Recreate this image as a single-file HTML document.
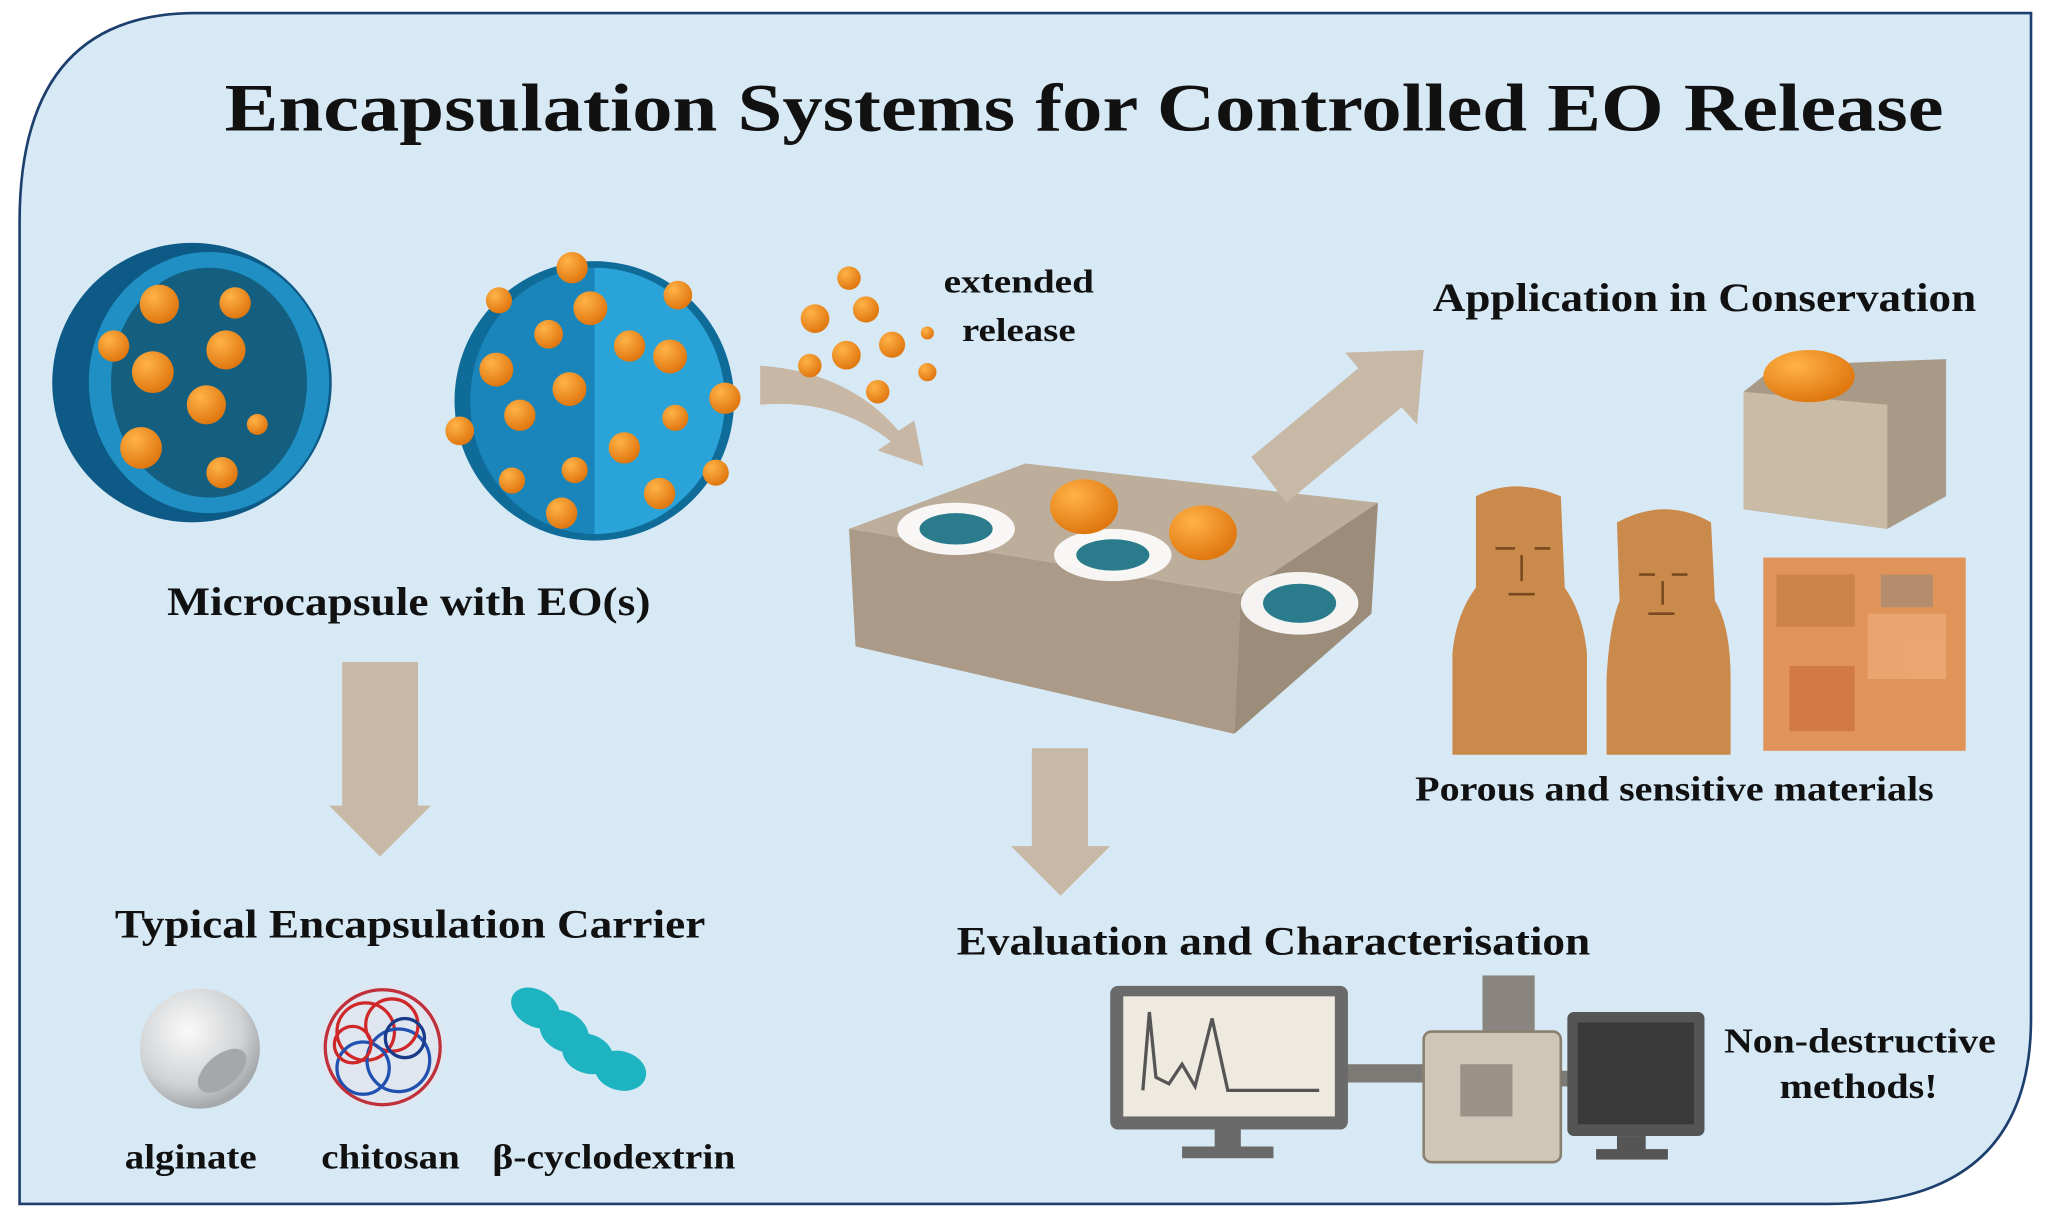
<!DOCTYPE html>
<html><head><meta charset="utf-8"><style>
html,body{margin:0;padding:0;background:#fff}
svg{display:block}
text{font-family:"Liberation Serif",serif;font-weight:bold;fill:#111}
</style></head><body>
<svg width="2048" height="1217" viewBox="0 0 1568 932" preserveAspectRatio="none" xmlns="http://www.w3.org/2000/svg">
<defs>
<radialGradient id="alg" cx="40%" cy="35%" r="65%"><stop offset="0" stop-color="#fafafa"/><stop offset="0.7" stop-color="#d0d2d4"/><stop offset="1" stop-color="#a5a8ab"/></radialGradient>
<radialGradient id="org" cx="35%" cy="30%" r="70%"><stop offset="0" stop-color="#ffb347"/><stop offset="1" stop-color="#e07810"/></radialGradient>
</defs>
<path d="M15,922 L15,170 Q15,10 150,10 L1555,10 L1555,780 Q1555,922 1400,922 Z" fill="#d8e9f6" stroke="#1d3f6e" stroke-width="2"/>
<text x="830" y="100" font-size="52" text-anchor="middle" textLength="1316" lengthAdjust="spacingAndGlyphs">Encapsulation Systems for Controlled EO Release</text>

<circle cx="147" cy="293" r="107" fill="#0e5a86"/>
<ellipse cx="160" cy="293" rx="92" ry="100" fill="#1f8fc4"/>
<ellipse cx="160" cy="293" rx="75" ry="88" fill="#145f80"/>
<g fill="url(#org)">
<circle cx="122" cy="233" r="15"/><circle cx="180" cy="232" r="12"/><circle cx="87" cy="265" r="12"/><circle cx="173" cy="268" r="15"/><circle cx="117" cy="285" r="16"/><circle cx="158" cy="310" r="15"/><circle cx="108" cy="343" r="16"/><circle cx="170" cy="362" r="12"/><circle cx="197" cy="325" r="8"/>
</g>
<circle cx="455" cy="307" r="107" fill="#0f6b98"/>
<path d="M455,205 A100,102 0 0,1 455,409 Z" fill="#2aa3d8"/>
<path d="M360,307 A95,102 0 0,1 455,205 L455,409 A95,102 0 0,1 360,307Z" fill="#1a85ba"/>
<g fill="url(#org)">
<circle cx="438" cy="205" r="12"/><circle cx="382" cy="230" r="10"/><circle cx="519" cy="226" r="11"/><circle cx="452" cy="236" r="13"/><circle cx="420" cy="256" r="11"/><circle cx="482" cy="265" r="12"/><circle cx="513" cy="273" r="13"/><circle cx="380" cy="283" r="13"/><circle cx="436" cy="298" r="13"/><circle cx="555" cy="305" r="12"/><circle cx="398" cy="318" r="12"/><circle cx="517" cy="320" r="10"/><circle cx="352" cy="330" r="11"/><circle cx="478" cy="343" r="12"/><circle cx="440" cy="360" r="10"/><circle cx="392" cy="368" r="10"/><circle cx="505" cy="378" r="12"/><circle cx="548" cy="362" r="10"/><circle cx="430" cy="393" r="12"/>
</g>
<path d="M582,280 Q650,285 688,330 L700,322 L707,357 L672,345 L682,338 Q640,305 582,310 Z" fill="#c7b7a4"/>
<g fill="url(#org)">
<circle cx="650" cy="213" r="9"/><circle cx="624" cy="244" r="11"/><circle cx="663" cy="237" r="10"/><circle cx="648" cy="272" r="11"/><circle cx="683" cy="264" r="10"/><circle cx="620" cy="280" r="9"/><circle cx="710" cy="285" r="7"/><circle cx="672" cy="300" r="9"/><circle cx="710" cy="255" r="5"/>
</g>
<text x="780" y="224" font-size="25" text-anchor="middle" textLength="115" lengthAdjust="spacingAndGlyphs">extended</text>
<text x="780" y="261" font-size="25" text-anchor="middle" textLength="87" lengthAdjust="spacingAndGlyphs">release</text>
<text x="313" y="471" font-size="31" text-anchor="middle" textLength="370" lengthAdjust="spacingAndGlyphs">Microcapsule with EO(s)</text>
<path d="M262,507 L320,507 L320,617 L330,617 L291,656 L252,617 L262,617 Z" fill="#c8b8a6"/>
<text x="314" y="718" font-size="31" text-anchor="middle" textLength="452" lengthAdjust="spacingAndGlyphs">Typical Encapsulation Carrier</text>
<circle cx="153" cy="803" r="46" fill="url(#alg)"/>
<ellipse cx="170" cy="820" rx="22" ry="12" fill="#a5a8aa" transform="rotate(-40 170 820)"/>
<circle cx="293" cy="802" r="48" fill="#dfe6ef"/>
<g fill="none" stroke-width="2.5">
<circle cx="280" cy="790" r="22" stroke="#d02828"/><circle cx="305" cy="812" r="24" stroke="#2050b0"/><circle cx="300" cy="785" r="20" stroke="#d02828"/><circle cx="278" cy="818" r="20" stroke="#2050b0"/><circle cx="293" cy="802" r="44" stroke="#c0303a"/><circle cx="310" cy="795" r="15" stroke="#1a3a8a"/><circle cx="270" cy="800" r="14" stroke="#d02828"/>
</g>
<g fill="#1db3c0">
<ellipse cx="410" cy="772" rx="20" ry="14" transform="rotate(30 410 772)"/><ellipse cx="432" cy="790" rx="20" ry="15" transform="rotate(30 432 790)"/><ellipse cx="450" cy="807" rx="20" ry="15" transform="rotate(20 450 807)"/><ellipse cx="475" cy="820" rx="20" ry="15" transform="rotate(15 475 820)"/>
</g>
<text x="146" y="895" font-size="27" text-anchor="middle" textLength="101" lengthAdjust="spacingAndGlyphs">alginate</text>
<text x="299" y="895" font-size="27" text-anchor="middle" textLength="106" lengthAdjust="spacingAndGlyphs">chitosan</text>
<text x="470" y="895" font-size="27" text-anchor="middle" textLength="186" lengthAdjust="spacingAndGlyphs">β-cyclodextrin</text>
<path d="M650,405 L785,355 L1055,385 L950,455 Z" fill="#bcae9b"/>
<path d="M650,405 L950,455 L945,562 L655,495 Z" fill="#aa9a87"/>
<path d="M950,455 L1055,385 L1050,470 L945,562 Z" fill="#9c8c7a"/>
<g fill="#fff" opacity="0.9"><ellipse cx="732" cy="405" rx="45" ry="20"/><ellipse cx="852" cy="425" rx="45" ry="20"/><ellipse cx="995" cy="462" rx="45" ry="24"/></g>
<g fill="#2a7c8c"><ellipse cx="732" cy="405" rx="28" ry="12"/><ellipse cx="852" cy="425" rx="28" ry="12"/><ellipse cx="995" cy="462" rx="28" ry="15"/></g>
<ellipse cx="830" cy="388" rx="26" ry="21" fill="url(#org)"/><ellipse cx="921" cy="408" rx="26" ry="21" fill="url(#org)"/>
<path d="M958,350 L1040,282 L1030,270 L1090,268 L1085,325 L1073,312 L985,385 Z" fill="#c8b8a6"/>
<text x="1305" y="238" font-size="31" text-anchor="middle" textLength="416" lengthAdjust="spacingAndGlyphs">Application in Conservation</text>
<path d="M1335,300 L1360,280 L1490,275 L1490,380 L1445,405 L1335,390 Z" fill="#a89a86"/>
<path d="M1335,300 L1445,310 L1445,405 L1335,390 Z" fill="#cabba6"/>
<ellipse cx="1385" cy="288" rx="35" ry="20" fill="url(#org)"/>
<g fill="#c98a4c">
<path d="M1130,380 Q1160,365 1195,380 L1198,450 Q1212,470 1215,500 L1215,578 L1112,578 L1112,500 Q1115,470 1130,450 Z"/>
<path d="M1238,400 Q1275,380 1310,400 L1313,460 Q1325,480 1325,520 L1325,578 L1230,578 L1230,520 Q1232,480 1240,460 Z"/>
</g>
<g stroke="#7a4a1e" stroke-width="2" fill="none"><path d="M1145,420 h15 M1175,420 h12 M1165,425 v20 M1155,455 h20"/><path d="M1255,440 h12 M1280,440 h12 M1273,445 v18 M1262,470 h20"/></g>
<rect x="1350" y="427" width="155" height="148" fill="#e0945a"/>
<g opacity="0.6"><rect x="1360" y="440" width="60" height="40" fill="#c07a40"/><rect x="1430" y="470" width="60" height="50" fill="#f0b080"/><rect x="1370" y="510" width="50" height="50" fill="#c86a3a"/><rect x="1440" y="440" width="40" height="25" fill="#9a8a7a"/></g>
<text x="1282" y="613" font-size="27" text-anchor="middle" textLength="397" lengthAdjust="spacingAndGlyphs">Porous and sensitive materials</text>
<path d="M790,573 L833,573 L833,648 L850,648 L812,686 L774,648 L790,648 Z" fill="#c8b8a6"/>
<text x="975" y="731" font-size="31" text-anchor="middle" textLength="485" lengthAdjust="spacingAndGlyphs">Evaluation and Characterisation</text>
<rect x="1030" y="815" width="70" height="14" fill="#7d7a76"/>
<rect x="850" y="755" width="182" height="110" rx="6" fill="#6a6a6a"/>
<rect x="860" y="763" width="162" height="92" fill="#efeae0"/>
<path d="M875,835 L880,775 L885,825 L895,830 L905,815 L915,832 L928,780 L940,835 L1010,835" fill="none" stroke="#555" stroke-width="2.5"/>
<rect x="930" y="865" width="20" height="15" fill="#6a6a6a"/><rect x="905" y="878" width="70" height="9" fill="#6a6a6a"/>
<rect x="1135" y="747" width="40" height="45" fill="#8a8580"/>
<rect x="1090" y="790" width="105" height="100" rx="6" fill="#cfc6b8" stroke="#8a8070" stroke-width="2"/>
<rect x="1118" y="815" width="40" height="40" fill="#9b9387"/>
<rect x="1195" y="820" width="15" height="12" fill="#7d7a76"/>
<rect x="1200" y="775" width="105" height="95" rx="5" fill="#555"/>
<rect x="1208" y="783" width="89" height="78" fill="#3a3a3a"/>
<rect x="1238" y="870" width="22" height="12" fill="#555"/><rect x="1222" y="880" width="55" height="8" fill="#555"/>
<text x="1424" y="806" font-size="27" text-anchor="middle" textLength="208" lengthAdjust="spacingAndGlyphs">Non-destructive</text>
<text x="1423" y="841" font-size="27" text-anchor="middle" textLength="121" lengthAdjust="spacingAndGlyphs">methods!</text>
</svg>
</body></html>
